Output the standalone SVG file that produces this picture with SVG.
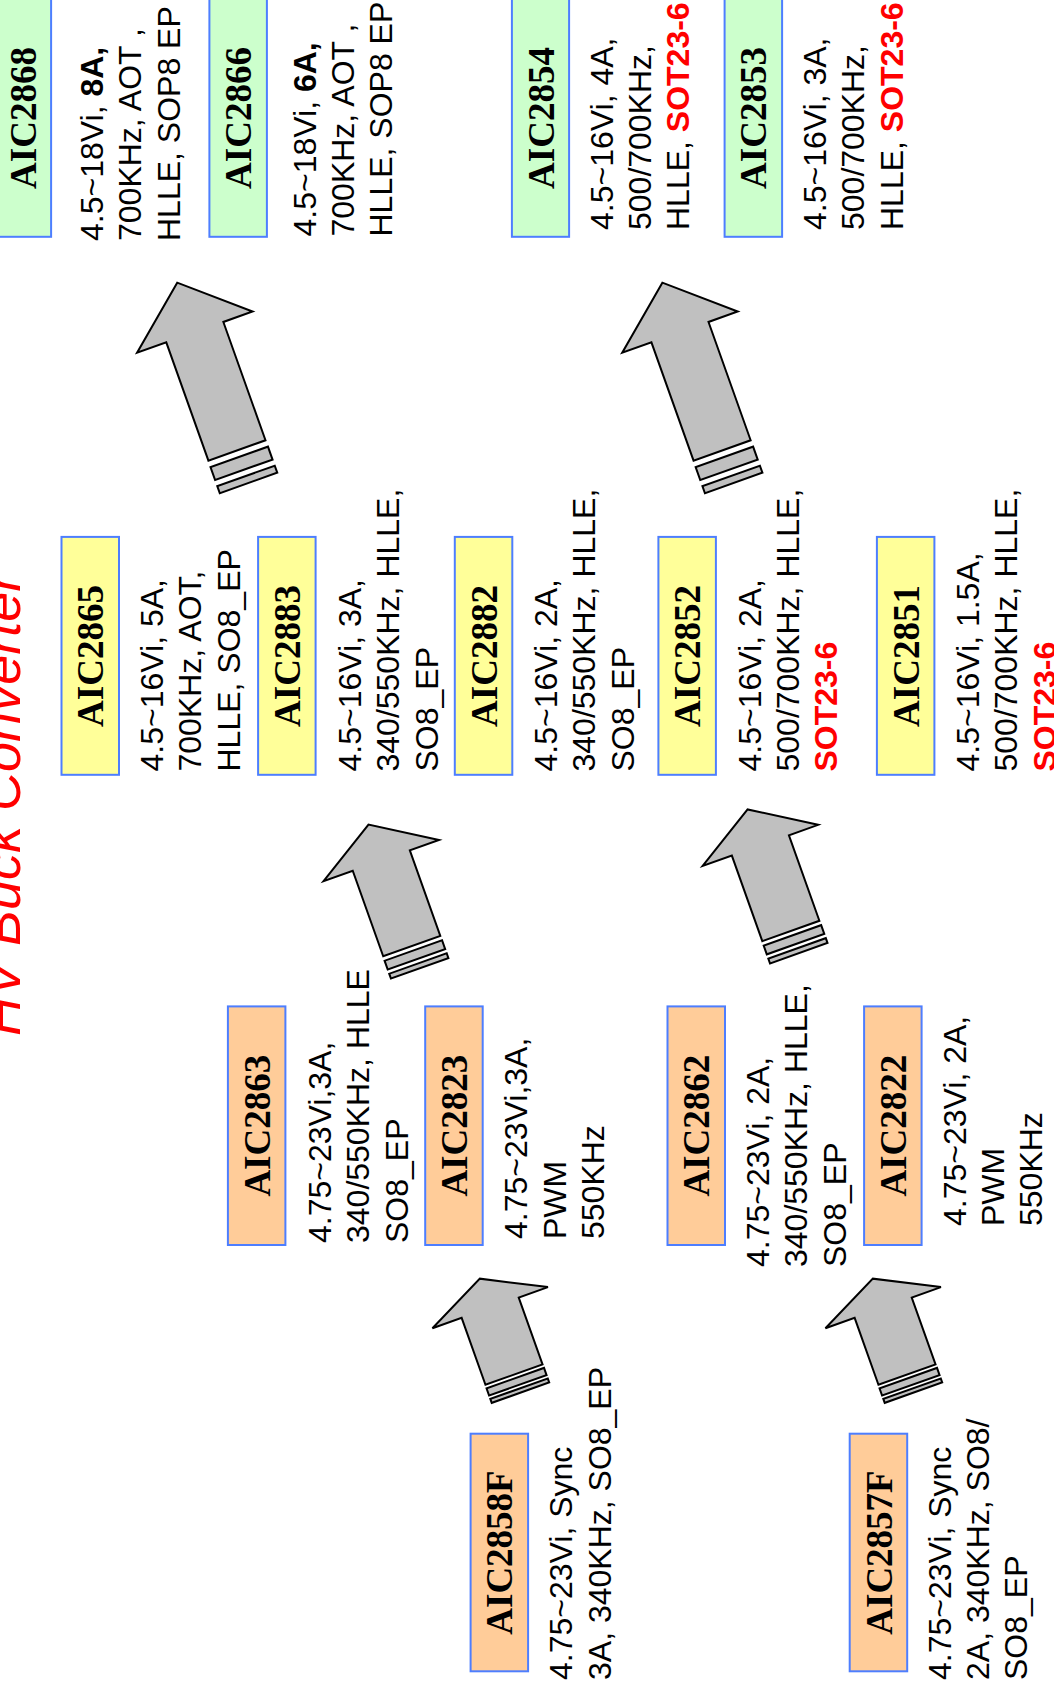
<svg xmlns="http://www.w3.org/2000/svg" xmlns:xlink="http://www.w3.org/1999/xlink" width="1054" height="1695" viewBox="0 0 1054 1695">
<style>
.box{stroke:#4D7EFF;stroke-width:2}
.g{fill:#CCFFCC}.y{fill:#FFFF99}.o{fill:#FFCC99}
.lbl{font-family:"Liberation Serif","Times New Roman",serif;font-weight:bold;font-size:37px;fill:#000;text-anchor:middle}
.t{font-family:"Liberation Sans",Arial,sans-serif;font-size:32px;fill:#000}
.b{font-weight:bold}
.r{font-weight:bold;fill:#FF0000}
.ttl{font-family:"Liberation Sans",Arial,sans-serif;font-size:54px;font-style:italic;fill:#FF0000}
.arr{fill:#C0C0C0;stroke:#000;stroke-width:2;stroke-linejoin:miter}
</style>
<defs>
<g id="arrowL"><polygon class="arr" points="-30.3,0 -30.3,-125.6 -61.3,-125.6 0,-178.1 61.3,-125.6 30.3,-125.6 30.3,0"/><rect class="arr" x="-30.5" y="6.8" width="61" height="13.7"/><rect class="arr" x="-30.5" y="27" width="61" height="7.5"/></g>
<g id="arrowM"><polygon class="arr" points="-30.3,0 -30.3,-90.8 -61.3,-90.8 0,-129 61.3,-90.8 30.3,-90.8 30.3,0"/><rect class="arr" x="-30.5" y="4.7" width="61" height="9.3"/><rect class="arr" x="-30.5" y="18.5" width="61" height="5.1"/></g>
<g id="arrowS"><polygon class="arr" points="-30.3,0 -30.3,-71 -61.3,-71 0,-101.8 61.3,-71 30.3,-71 30.3,0"/><rect class="arr" x="-30.5" y="3.8" width="61" height="7.6"/><rect class="arr" x="-30.5" y="15" width="61" height="4.2"/></g>
</defs>
<rect width="1054" height="1695" fill="#FFFFFF"/>
<text class="ttl" transform="translate(19.5,1036) rotate(-90)">HV Buck Converter</text>
<g id="connectors">
<use xlink:href="#arrowL" transform="translate(236.95,450.45) rotate(-19.6)"/>
<use xlink:href="#arrowL" transform="translate(722.1,450.45) rotate(-19.6)"/>
<use xlink:href="#arrowM" transform="translate(411.75,946.1) rotate(-19.6)"/>
<use xlink:href="#arrowM" transform="translate(790.85,930.95) rotate(-19.6)"/>
<use xlink:href="#arrowS" transform="translate(514,1374.55) rotate(-19.6)"/>
<use xlink:href="#arrowS" transform="translate(907,1374.55) rotate(-19.6)"/>
</g>
<g id="AIC2868">
<rect class="box g" x="-6.4" y="-1.5" width="57.5" height="238.3"/>
<text class="lbl" transform="translate(35.5,118) rotate(-90)">AIC2868</text>
<text class="t" transform="translate(103,241) rotate(-90)"><tspan x="0" y="0">4.5~18Vi, <tspan class="b">8A,</tspan></tspan><tspan x="0" y="38.4">700KHz, AOT ,</tspan><tspan x="0" y="76.8">HLLE, SOP8 EP</tspan></text>
</g>
<g id="AIC2866">
<rect class="box g" x="209.4" y="-1.5" width="57.5" height="238.3"/>
<text class="lbl" transform="translate(251.2,118) rotate(-90)">AIC2866</text>
<text class="t" transform="translate(315.5,236.5) rotate(-90)"><tspan x="0" y="0">4.5~18Vi, <tspan class="b">6A,</tspan></tspan><tspan x="0" y="38.4">700KHz, AOT ,</tspan><tspan x="0" y="76.8">HLLE, SOP8 EP</tspan></text>
</g>
<g id="AIC2854">
<rect class="box g" x="511.9" y="-1.5" width="57.2" height="238.3"/>
<text class="lbl" transform="translate(553.5,118) rotate(-90)">AIC2854</text>
<text class="t" transform="translate(612.7,230) rotate(-90)"><tspan x="0" y="0">4.5~16Vi, 4A,</tspan><tspan x="0" y="38.4">500/700KHz,</tspan><tspan x="0" y="76.8">HLLE, <tspan class="r">SOT23-6</tspan></tspan></text>
</g>
<g id="AIC2853">
<rect class="box g" x="724.6" y="-1.5" width="57.5" height="238.3"/>
<text class="lbl" transform="translate(766.4,118) rotate(-90)">AIC2853</text>
<text class="t" transform="translate(826,230) rotate(-90)"><tspan x="0" y="0">4.5~16Vi, 3A,</tspan><tspan x="0" y="38.4">500/700KHz,</tspan><tspan x="0" y="76.8">HLLE, <tspan class="r">SOT23-6</tspan></tspan></text>
</g>
<g id="AIC2865">
<rect class="box y" x="61.5" y="536.9" width="57.5" height="237.9"/>
<text class="lbl" transform="translate(103.3,656) rotate(-90)">AIC2865</text>
<text class="t" transform="translate(163,771.5) rotate(-90)"><tspan x="0" y="0">4.5~16Vi, 5A,</tspan><tspan x="0" y="38.4">700KHz, AOT,</tspan><tspan x="0" y="76.8">HLLE, SO8_EP</tspan></text>
</g>
<g id="AIC2883">
<rect class="box y" x="258.1" y="536.9" width="57.5" height="237.9"/>
<text class="lbl" transform="translate(299.9,656) rotate(-90)">AIC2883</text>
<text class="t" transform="translate(361,771.5) rotate(-90)"><tspan x="0" y="0">4.5~16Vi, 3A,</tspan><tspan x="0" y="38.4">340/550KHz, HLLE,</tspan><tspan x="0" y="76.8">SO8_EP</tspan></text>
</g>
<g id="AIC2882">
<rect class="box y" x="454.8" y="536.9" width="57.5" height="237.9"/>
<text class="lbl" transform="translate(496.6,656) rotate(-90)">AIC2882</text>
<text class="t" transform="translate(557,771.5) rotate(-90)"><tspan x="0" y="0">4.5~16Vi, 2A,</tspan><tspan x="0" y="38.4">340/550KHz, HLLE,</tspan><tspan x="0" y="76.8">SO8_EP</tspan></text>
</g>
<g id="AIC2852">
<rect class="box y" x="658.4" y="536.9" width="57.5" height="237.9"/>
<text class="lbl" transform="translate(700.2,656) rotate(-90)">AIC2852</text>
<text class="t" transform="translate(760.6,771.5) rotate(-90)"><tspan x="0" y="0">4.5~16Vi, 2A,</tspan><tspan x="0" y="38.4">500/700KHz, HLLE,</tspan><tspan x="0" y="76.8" class="r">SOT23-6</tspan></text>
</g>
<g id="AIC2851">
<rect class="box y" x="876.9" y="536.9" width="57.5" height="237.9"/>
<text class="lbl" transform="translate(918.7,656) rotate(-90)">AIC2851</text>
<text class="t" transform="translate(979,771.5) rotate(-90)"><tspan x="0" y="0">4.5~16Vi, 1.5A,</tspan><tspan x="0" y="38.4">500/700KHz, HLLE,</tspan><tspan x="0" y="76.8" class="r">SOT23-6</tspan></text>
</g>
<g id="AIC2863">
<rect class="box o" x="227.9" y="1006.4" width="57.5" height="238.6"/>
<text class="lbl" transform="translate(269.7,1125.7) rotate(-90)">AIC2863</text>
<text class="t" transform="translate(331,1243) rotate(-90)"><tspan x="0" y="0">4.75~23Vi,3A,</tspan><tspan x="0" y="38.4">340/550KHz, HLLE</tspan><tspan x="0" y="76.8">SO8_EP</tspan></text>
</g>
<g id="AIC2823">
<rect class="box o" x="425.2" y="1006.4" width="57.5" height="238.6"/>
<text class="lbl" transform="translate(467,1125.7) rotate(-90)">AIC2823</text>
<text class="t" transform="translate(527.4,1239) rotate(-90)"><tspan x="0" y="0">4.75~23Vi,3A,</tspan><tspan x="0" y="38.4">PWM</tspan><tspan x="0" y="76.8">550KHz</tspan></text>
</g>
<g id="AIC2862">
<rect class="box o" x="667.5" y="1006.4" width="57.5" height="238.6"/>
<text class="lbl" transform="translate(709.3,1125.7) rotate(-90)">AIC2862</text>
<text class="t" transform="translate(769,1267) rotate(-90)"><tspan x="0" y="0">4.75~23Vi, 2A,</tspan><tspan x="0" y="38.4">340/550KHz, HLLE,</tspan><tspan x="0" y="76.8">SO8_EP</tspan></text>
</g>
<g id="AIC2822">
<rect class="box o" x="864.1" y="1006.4" width="57.5" height="238.6"/>
<text class="lbl" transform="translate(905.9,1125.7) rotate(-90)">AIC2822</text>
<text class="t" transform="translate(965.7,1226) rotate(-90)"><tspan x="0" y="0">4.75~23Vi, 2A,</tspan><tspan x="0" y="38.4">PWM</tspan><tspan x="0" y="76.8">550KHz</tspan></text>
</g>
<g id="AIC2858F">
<rect class="box o" x="470.6" y="1433.7" width="57.5" height="237.6"/>
<text class="lbl" transform="translate(512.4,1552.5) rotate(-90)">AIC2858F</text>
<text class="t" transform="translate(572.4,1680) rotate(-90)"><tspan x="0" y="0">4.75~23Vi, Sync</tspan><tspan x="0" y="38.4">3A, 340KHz, SO8_EP</tspan></text>
</g>
<g id="AIC2857F">
<rect class="box o" x="849.7" y="1433.7" width="57.5" height="237.6"/>
<text class="lbl" transform="translate(891.5,1552.5) rotate(-90)">AIC2857F</text>
<text class="t" transform="translate(950.5,1680) rotate(-90)"><tspan x="0" y="0">4.75~23Vi, Sync</tspan><tspan x="0" y="38.4">2A, 340KHz, SO8/</tspan><tspan x="0" y="76.8">SO8_EP</tspan></text>
</g>
</svg>
